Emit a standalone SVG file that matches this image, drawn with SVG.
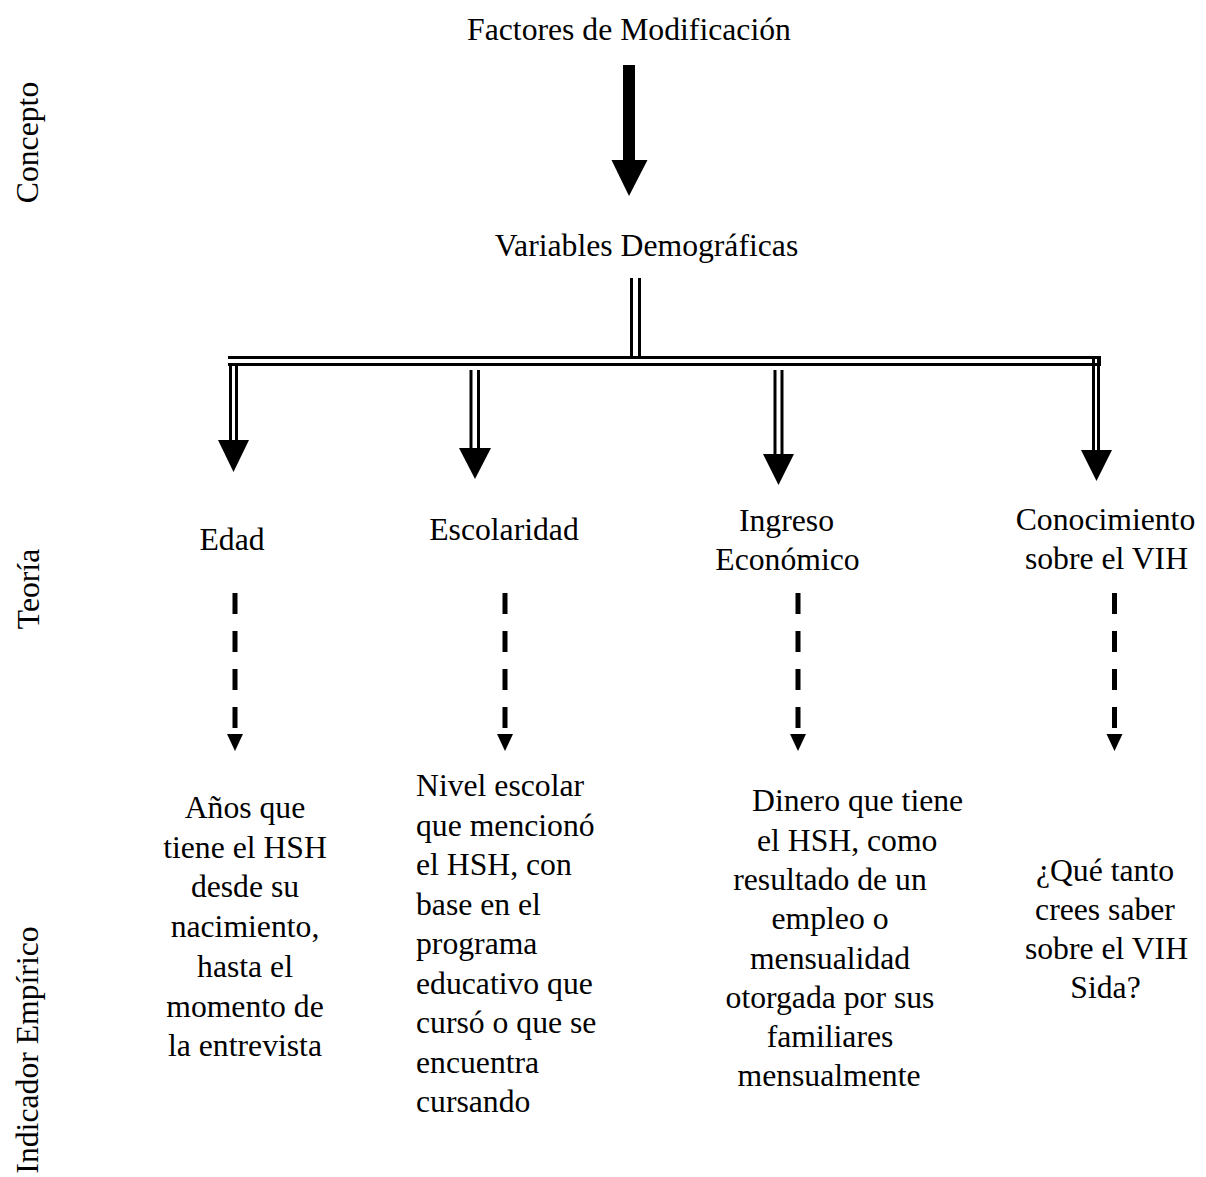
<svg xmlns="http://www.w3.org/2000/svg" width="1206" height="1177" viewBox="0 0 1206 1177">
  <style>
    text { font-family: "Liberation Serif", "Times New Roman", serif; font-size: 31.7px; fill: #000; }
    .c { text-anchor: middle; }
    .dbl { stroke: #000; stroke-width: 3; fill: none; }
    .dash { stroke: #000; stroke-width: 5; stroke-dasharray: 21 17; fill: none; }
    .head { fill: #000; }
  </style>
  <rect width="1206" height="1177" fill="#fff"/>

  <!-- side labels -->
  <g id="label-concepto"><text class="c" transform="translate(38,142.5) rotate(-90)" font-size="32">Concepto</text></g>
  <g id="label-teoria"><text class="c" transform="translate(39,589) rotate(-90)" font-size="32">Teoría</text></g>
  <g id="label-indicador"><text class="c" transform="translate(38,1050) rotate(-90)" font-size="32">Indicador Empírico</text></g>

  <!-- concept nodes -->
  <g id="factores"><text class="c" x="629" y="40">Factores de Modificación</text></g>
  <g id="variables"><text class="c" x="646.5" y="256">Variables Demográficas</text></g>

  <!-- theory nodes -->
  <g id="edad"><text class="c" x="232" y="550">Edad</text></g>
  <g id="escolaridad"><text class="c" x="504" y="540">Escolaridad</text></g>
  <g id="ingreso"><text class="c" x="786.5" y="531">Ingreso</text><text class="c" x="787.5" y="570">Económico</text></g>
  <g id="conocimiento"><text class="c" x="1105.5" y="530">Conocimiento</text><text class="c" x="1106.5" y="569">sobre el VIH</text></g>

  <!-- empirical indicators -->
  <g id="ind-edad">
    <text class="c" x="245" y="818">Años que</text>
    <text class="c" x="245" y="857.7">tiene el HSH</text>
    <text class="c" x="245" y="897.4">desde su</text>
    <text class="c" x="245" y="937.1">nacimiento,</text>
    <text class="c" x="245" y="976.8">hasta el</text>
    <text class="c" x="245" y="1016.5">momento de</text>
    <text class="c" x="245" y="1056.2">la entrevista</text>
  </g>
  <g id="ind-escolaridad">
    <text x="416" y="796">Nivel escolar</text>
    <text x="416" y="835.5">que mencionó</text>
    <text x="416" y="875">el HSH, con</text>
    <text x="416" y="914.5">base en el</text>
    <text x="416" y="954">programa</text>
    <text x="416" y="993.5">educativo que</text>
    <text x="416" y="1033">cursó o que se</text>
    <text x="416" y="1072.5">encuentra</text>
    <text x="416" y="1112">cursando</text>
  </g>
  <g id="ind-ingreso">
    <text x="752" y="811">Dinero que tiene</text>
    <text x="757" y="851">el HSH, como</text>
    <text class="c" x="830" y="890">resultado de un</text>
    <text class="c" x="830" y="929">empleo o</text>
    <text class="c" x="830" y="968.5">mensualidad</text>
    <text class="c" x="830" y="1008">otorgada por sus</text>
    <text class="c" x="830" y="1047">familiares</text>
    <text class="c" x="829" y="1086">mensualmente</text>
  </g>
  <g id="ind-conocimiento">
    <text class="c" x="1105" y="881">¿Qué tanto</text>
    <text class="c" x="1105" y="920">crees saber</text>
    <text class="c" x="1106.5" y="959">sobre el VIH</text>
    <text class="c" x="1105.5" y="998">Sida?</text>
  </g>

  <g id="connectors">
    <!-- bold arrow: factores to variables -->
    <rect x="623" y="65" width="12" height="96"/>
    <polygon class="head" points="611.5,160 647.5,160 629,196"/>

    <!-- double-line trunk and branch bar -->
    <line class="dbl" x1="631.5" y1="278" x2="631.5" y2="357"/>
    <line class="dbl" x1="639.5" y1="278" x2="639.5" y2="357"/>
    <line class="dbl" x1="228" y1="357.5" x2="1099.5" y2="357.5"/>
    <line class="dbl" x1="228" y1="364.5" x2="1099.5" y2="364.5"/>
    <line class="dbl" x1="1099.5" y1="356" x2="1099.5" y2="366"/>

    <!-- double-line branch arrows -->
    <line class="dbl" x1="230.5" y1="366" x2="230.5" y2="441"/>
    <line class="dbl" x1="236.5" y1="366" x2="236.5" y2="441"/>
    <polygon class="head" points="218,440 249,440 233.5,472"/>

    <line class="dbl" x1="471" y1="370" x2="471" y2="449"/>
    <line class="dbl" x1="478.5" y1="370" x2="478.5" y2="449"/>
    <polygon class="head" points="459,448 491,448 475,479"/>

    <line class="dbl" x1="775" y1="370" x2="775" y2="455"/>
    <line class="dbl" x1="782" y1="370" x2="782" y2="455"/>
    <polygon class="head" points="763,454 794,454 778.5,485"/>

    <line class="dbl" x1="1093.5" y1="357" x2="1093.5" y2="451"/>
    <line class="dbl" x1="1098.5" y1="357" x2="1098.5" y2="451"/>
    <polygon class="head" points="1081,450 1112,450 1096.5,481"/>

    <!-- dashed arrows: theory to indicator -->
    <line class="dash" x1="235" y1="593" x2="235" y2="729"/>
    <polygon class="head" points="227,734 243,734 235,751"/>
    <line class="dash" x1="505" y1="593" x2="505" y2="729"/>
    <polygon class="head" points="497,734 513,734 505,751"/>
    <line class="dash" x1="798" y1="593" x2="798" y2="729"/>
    <polygon class="head" points="790,734 806,734 798,751"/>
    <line class="dash" x1="1114.5" y1="593" x2="1114.5" y2="729"/>
    <polygon class="head" points="1106.5,734 1122.5,734 1114.5,751"/>
  </g>
</svg>
